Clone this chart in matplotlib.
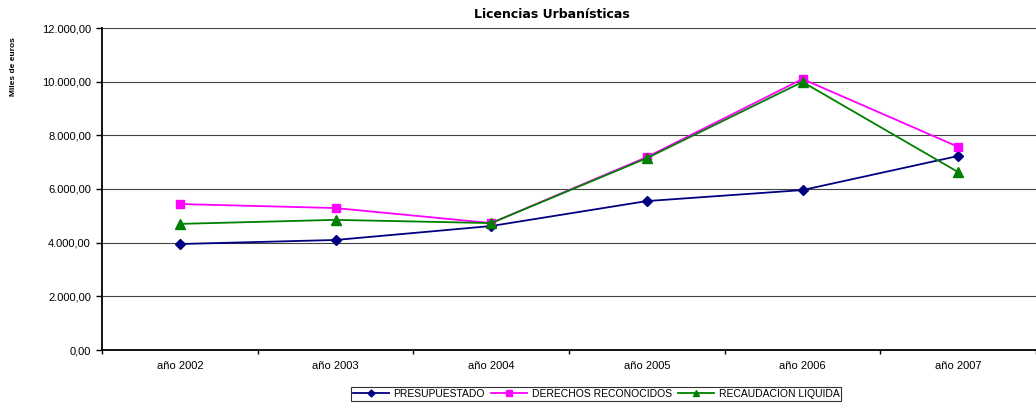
import matplotlib
matplotlib.use('Agg')
import matplotlib.pyplot as plt
import numpy as np

plt.rcParams['font.family'] = ['Liberation Sans', 'DejaVu Sans']

# datos (miles de euros)
years = ['año 2002', 'año 2003', 'año 2004', 'año 2005', 'año 2006', 'año 2007']
presupuestado = [3950, 4100, 4620, 5550, 5960, 7230]
derechos = [5440, 5290, 4730, 7190, 10100, 7570]
recaudacion = [4700, 4850, 4730, 7150, 9990, 6630]
yticks = [0, 2000, 4000, 6000, 8000, 10000, 12000]
ytick_labels = ['0,00', '2.000,00', '4.000,00', '6.000,00', '8.000,00', '10.000,00', '12.000,00']

fig = plt.figure(figsize=(10.36, 4.05), dpi=100)
ax = fig.add_axes([102 / 1036, 55 / 405, 934 / 1036, 322 / 405])

x = np.arange(len(years))
ax.plot(x, presupuestado, color='#000080', marker='D', markersize=5, lw=1.3, label='PRESUPUESTADO')
ax.plot(x, derechos, color='#ff00ff', marker='s', markersize=6, lw=1.3, label='DERECHOS RECONOCIDOS')
ax.plot(x, recaudacion, color='#008000', marker='^', markersize=7, lw=1.3, label='RECAUDACION LIQUIDA')

ax.set_xlim(-0.5, len(years) - 0.5)
ax.set_ylim(0, 12000)
ax.set_yticks(yticks)
ax.set_yticklabels(ytick_labels, fontsize=8)
ax.yaxis.grid(True, color='#444444', lw=0.8)
ax.set_axisbelow(True)

# ticks entre categorias, como en Excel
ax.set_xticks(np.arange(len(years) + 1) - 0.5)
ax.set_xticklabels([])
ax.set_xticks(x, minor=True)
ax.set_xticklabels(years, minor=True, fontsize=8)
ax.tick_params(axis='x', which='minor', length=0, pad=8)
ax.tick_params(axis='x', which='major', length=3, direction='out', width=1)
ax.tick_params(axis='y', length=4, width=1, pad=4)

for s in ['top', 'right']:
    ax.spines[s].set_visible(False)
ax.spines['left'].set_linewidth(1.3)
ax.spines['bottom'].set_linewidth(1.3)

fig.text(552 / 1036, 1 - 14 / 405, 'Licencias Urbanísticas', ha='center', va='center',
         fontsize=9, fontweight='bold', family='DejaVu Sans')
fig.text(14 / 1036, 1 - 67 / 405, 'Miles de euros', rotation=90, ha='center', va='center',
         fontsize=6, fontweight='bold')

leg = fig.legend(loc='center', bbox_to_anchor=(596 / 1036, 11 / 405), ncol=3, fontsize=7.5,
                 frameon=True, fancybox=False, edgecolor='black', borderpad=0.2,
                 handlelength=3.5, columnspacing=0.6, handletextpad=0.4, markerscale=0.7)
leg.get_frame().set_linewidth(0.8)

plt.savefig('out.png', dpi=100)
